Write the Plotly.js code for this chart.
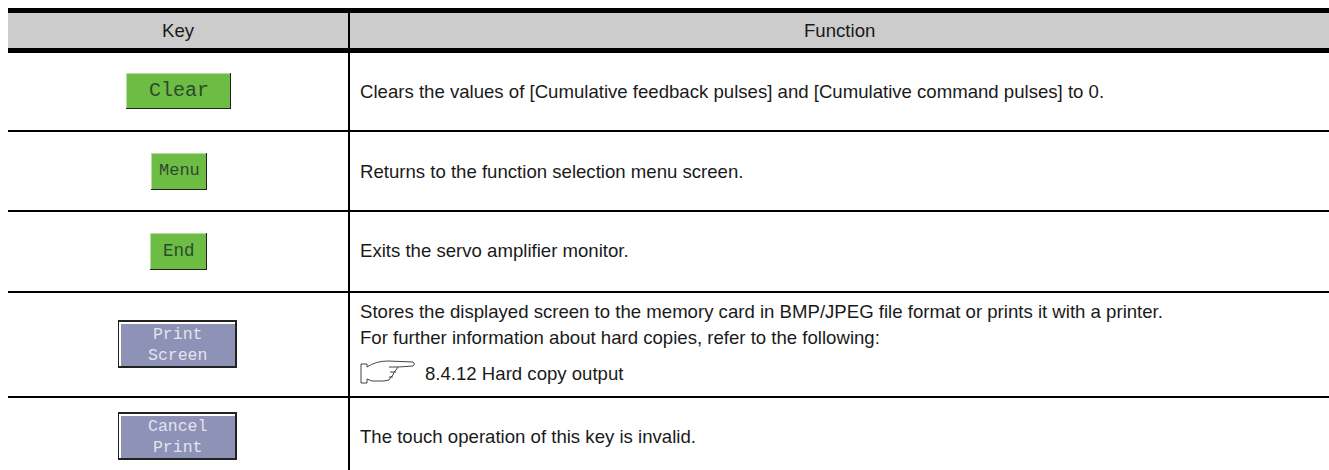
<!DOCTYPE html>
<html><head><meta charset="utf-8">
<script src="https://cdn.plot.ly/plotly-3.0.1.min.js"></script>
<style>html,body{margin:0;padding:0;background:#fff}</style></head>
<body><div id="chart" style="width:1329px;height:470px"></div>
<script>
const headers = ["Key", "Function"];
const keyLabels = ["Clear", "Menu", "End", "Print<br>Screen", "Cancel<br>Print"];
const functionLines = [
  ["Clears the values of [Cumulative feedback pulses] and [Cumulative command pulses] to 0."],
  ["Returns to the function selection menu screen."],
  ["Exits the servo amplifier monitor."],
  ["Stores the displayed screen to the memory card in BMP/JPEG file format or prints it with a printer.",
   "For further information about hard copies, refer to the following:"],
  ["The touch operation of this key is invalid."]
];
const referenceText = "8.4.12 Hard copy output";

// layout geometry (pixel scale of the axes)
const X0=8, X1=1329, XS=349, Y_BOTTOM=470;
const rowLines=[131,211,292,397];
const rowTextY=[91,171,250,null,436];
const multiY=[311,337];
const refY=373;
const btn=[[126,231,73,109],[151,207,153,190],[150,207,233,270],[118,237,320,368],[118,237,412,460]];
const btnFont=[20,17,17.5,16.5,16.5];
const green='#6dbd45', slate='#8e92b6';

const shapes=[], ann=[];
const rect=(x0,x1,y0,y1,c)=>shapes.push({type:'rect',xref:'x',yref:'y',x0,x1,y0,y1,fillcolor:c,line:{width:0},layer:'above'});
const txt=(x,y,text,o={})=>ann.push(Object.assign({xref:'x',yref:'y',x,y,text,showarrow:false,xanchor:'left',yanchor:'middle',
  font:{family:'"Liberation Sans",Arial,sans-serif',size:18.6,color:'#1a1a1a'}},o));
const path=(d,fill)=>shapes.push({type:'path',xref:'x',yref:'y',layer:'above',line:{color:'#444',width:1},fillcolor:fill,path:d});

rect(X0,X1,13,48,'#cccccc');
rect(X0,X1,8,13,'#000');
rect(X0,X1,48,53,'#000');
rect(XS-1,XS+1,13,Y_BOTTOM,'#000');
rowLines.forEach(y=>rect(X0,X1,y-1,y+1,'#000'));

txt((X0+XS)/2,30,headers[0],{xanchor:'center'});
txt((XS+X1)/2,30,headers[1],{xanchor:'center'});

functionLines.forEach((l,i)=>{
  if(rowTextY[i]!==null) txt(358,rowTextY[i],l[0]);
  else l.forEach((s,j)=>txt(358,multiY[j],s));
});
txt(423,refY,referenceText);

// hand pointer icon
path('M361,364 L367,364 L367,367 Q376,361 388,361 L413,362 Q416,364 413,366 L398,367 L396,370 L394,372 L393,375 L391,377 L389,380 L384,381 L372,381 L367,379 L367,383 L361,383 Z','#fff');
path('M389,367 L398,367 M390,372 L396,372 M389,377 L393,377','rgba(0,0,0,0)');

btn.forEach((b,i)=>{
  const [x0,x1,y0,y1]=b, c=i<3?green:slate;
  if(i<3){
    rect(x0,x1,y0,y1,'#222');
    rect(x0,x1-1,y0,y1-1,'#b9dca4');
    rect(x0+1,x1-1,y0+1,y1-1,c);
  }else{
    rect(x0,x1,y0,y1,'#222');
    rect(x0+1,x1-2,y0+2,y1-2,'#fff');
    rect(x0+3,x1-2,y0+4,y1-2,c);
  }
  txt((x0+x1)/2,(y0+y1)/2+(i<3?-1:1),keyLabels[i],{xanchor:'center',
    font:{family:'"Liberation Mono",monospace',size:btnFont[i],color:i<3?'#2c4a2c':'#e4e4ee'}});
});

Plotly.newPlot('chart',[{x:[0],y:[0],type:'scatter',mode:'markers',marker:{opacity:0},hoverinfo:'skip',showlegend:false}],{
  width:1329,height:470,margin:{l:0,r:0,t:0,b:0},paper_bgcolor:'#fff',plot_bgcolor:'#fff',
  xaxis:{range:[0,1329],visible:false,fixedrange:true},
  yaxis:{range:[470,0],visible:false,fixedrange:true},
  shapes,annotations:ann,showlegend:false
},{displayModeBar:false,staticPlot:true});
</script></body></html>
